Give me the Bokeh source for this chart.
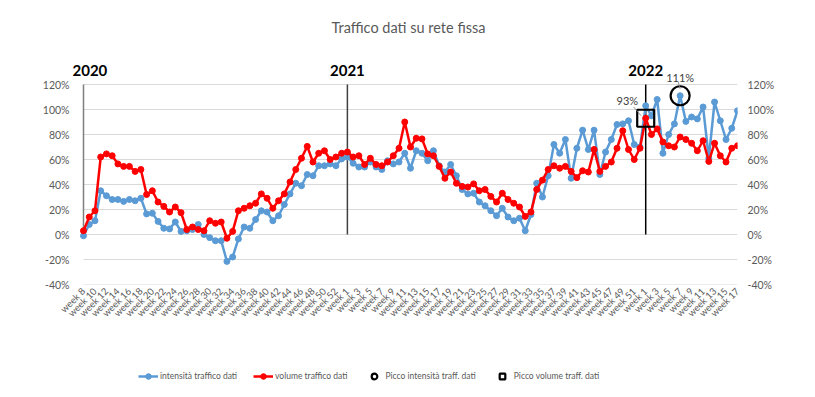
import numpy as np
from bokeh.plotting import figure
from bokeh.layouts import column
from bokeh.models import (ColumnDataSource, FixedTicker, PrintfTickFormatter, LinearAxis,
                          Legend, LegendItem, Label, Range1d)
from bokeh.embed import file_html
from bokeh.resources import INLINE

# ---------------- data ----------------
years = [2020] * 46 + [2021] * 52 + [2022] * 17
week_nums = list(range(8, 54)) + list(range(1, 53)) + list(range(1, 18))
week_labels = ["week %d" % w for w in week_nums]
year_names = ["2020", "2021", "2022"]

intensita = [-1, 8, 11, 35, 31, 28, 28, 26.5, 28, 27, 29, 16.5, 17, 10.5, 5, 4.5, 10, 2.5, 3, 4,
             8, 0, -2.5, -5, -5, -21.5, -18, -3.5, 6, 5,
             12, 19, 18, 11, 15, 24, 32.5, 41, 39, 48,
             47, 55, 55, 56.5, 55, 60.5, 62, 57, 54, 54,
             58, 54, 52, 59, 56.5, 58, 65, 53, 67, 65,
             59, 67, 55, 50, 56, 47, 36, 32.5, 33, 26,
             23, 19, 15, 21, 14, 11, 13, 3, 16, 41,
             30, 47, 72, 65, 76, 45, 69, 83.5, 68, 83.5,
             48, 66, 76, 88, 88.5, 91, 72, 70, 103, 95,
             108, 65, 80, 88.5, 111, 90.5, 94, 92.5, 102, 61,
             106, 91, 76, 85, 99]

volume = [3, 14, 19, 62, 64.5, 63, 56.5, 54.5, 54.5, 50.5, 52, 32, 35, 26, 22.5, 18, 22, 17.5, 4, 6,
          4, 3, 11, 9, 10, -3, 2.5, 19, 21, 23,
          25, 32.5, 29, 21, 27, 32.5, 42, 52, 61, 70.5,
          58, 65, 67, 60, 62, 65, 66, 62, 63, 56,
          61, 56, 55, 58, 63, 69, 90, 70, 77, 76.5,
          64.5, 63, 54.5, 45, 50, 41, 38.5, 38, 40.5, 35,
          36, 30.5, 26, 33, 28, 25, 22, 14.5, 18, 36,
          43.5, 52, 55, 53, 54.5, 50.5, 45.5, 51, 50, 68,
          50.5, 54.5, 58, 69, 83, 68, 60, 69, 93, 80,
          84.5, 74, 71, 70, 78, 76, 73, 67, 75, 58.5,
          73, 63, 58, 69, 71]

y_ticks = [-40, -20, 0, 20, 40, 60, 80, 100, 120]
series_names = ["intensità traffico dati", "volume traffico dati",
                "Picco intensità traff. dati", "Picco volume traff. dati"]

# ---------------- figure ----------------
FONT = "Lato"
GRAY = "#595959"
BLUE = "#5B9BD5"
RED = "#FF0000"

n = len(week_labels)
idx = list(range(n))

p = figure(width=807, height=345, x_range=Range1d(-1.917, n - 1), y_range=Range1d(-40, 175.2),
           output_backend="svg", toolbar_location=None,
           min_border_left=72, min_border_right=70, min_border_top=15, min_border_bottom=61)
p.outline_line_color = None
p.xgrid.visible = False
p.ygrid.visible = False

# horizontal gridlines across the category span
p.segment(x0=[0] * len(y_ticks), y0=y_ticks, x1=[n - 1] * len(y_ticks), y1=y_ticks,
          line_color="#d9d9d9", line_width=1)

def style_y(ax, standoff):
    ax.ticker = FixedTicker(ticks=y_ticks)
    ax.formatter = PrintfTickFormatter(format="%d%%")
    ax.axis_line_color = None
    ax.major_tick_line_color = None
    ax.minor_tick_line_color = None
    ax.major_tick_out = 0
    ax.major_tick_in = 0
    ax.minor_tick_out = 0
    ax.major_label_text_color = GRAY
    ax.major_label_text_font = FONT
    ax.major_label_text_font_size = "10.5px"
    ax.major_label_standoff = standoff

style_y(p.yaxis[0], 3)
right_ax = LinearAxis()
style_y(right_ax, 10)
p.add_layout(right_ax, "right")

xa = p.xaxis[0]
xa.ticker = FixedTicker(ticks=idx[::2])
xa.major_label_overrides = {i: week_labels[i] for i in idx[::2]}
xa.major_label_orientation = np.pi / 4
xa.axis_line_color = None
xa.major_tick_line_color = None
xa.minor_tick_line_color = None
xa.major_tick_out = 0
xa.major_tick_in = 0
xa.minor_tick_out = 0
xa.major_label_text_color = GRAY
xa.major_label_text_font = FONT
xa.major_label_text_font_size = "9.5px"
xa.major_label_standoff = 5

# year separator lines
year_x = [years.index(int(y)) for y in year_names]
ysrc = ColumnDataSource(dict(x=year_x, y0=[0] * 3, y1=[120] * 3,
                             c=["#7f7f7f", "#404040", "#000000"]))
p.segment(x0="x", y0="y0", x1="x", y1="y1", line_color="c", line_width=1.5, source=ysrc)

src = ColumnDataSource(dict(x=idx, blue=intensita, red=volume))
p.line("x", "blue", source=src, line_color=BLUE, line_width=2.5)
p.scatter("x", "blue", source=src, size=6, fill_color=BLUE, line_color=BLUE)
p.line("x", "red", source=src, line_color=RED, line_width=2.5)
p.scatter("x", "red", source=src, size=6, fill_color=RED, line_color=RED)

# peaks
ib = int(np.argmax(intensita))
ir = int(np.argmax(volume))
psrc_b = ColumnDataSource(dict(x=[ib], y=[intensita[ib]]))
psrc_r = ColumnDataSource(dict(x=[ir], y=[volume[ir]]))
p.scatter("x", "y", source=psrc_b, marker="circle", size=19, fill_color=None,
          line_color="black", line_width=2.2)
p.scatter("x", "y", source=psrc_r, marker="square", size=17, fill_color=None,
          line_color="black", line_width=2.2)

p.segment(x0=[ib - 0.35], y0=[122.4], x1=[ib], y1=[116.5], line_color="#7f7f7f", line_width=0.8)
p.segment(x0=[ir - 2.1], y0=[102], x1=[ir - 0.8], y1=[95], line_color="#7f7f7f", line_width=0.8)

p.add_layout(Label(x=ib, y=125.9, text="%d%%" % round(intensita[ib]), text_align="center",
                   text_baseline="middle", text_font=FONT, text_font_size="11px",
                   text_color="#404040"))
p.add_layout(Label(x=ir - 3.2, y=107.2, text="%d%%" % round(volume[ir]), text_align="center",
                   text_baseline="middle", text_font=FONT, text_font_size="11px",
                   text_color="#404040"))

# year labels
for k, (yx, name) in enumerate(zip(year_x, year_names)):
    if k == 0:
        lab = Label(x=yx, y=131.2, x_offset=-11, text=name, text_align="left")
    else:
        lab = Label(x=yx, y=131.2, text=name, text_align="center")
    lab.text_baseline = "middle"
    lab.text_font = FONT
    lab.text_font_style = "bold"
    lab.text_font_size = "15px"
    lab.text_color = "#000000"
    p.add_layout(lab)

# title
p.add_layout(Label(x=56.65, y=165.6, text="Traffico dati su rete fissa",
                   text_align="center", text_baseline="middle", text_font=FONT,
                   text_font_size="14.5px", text_color=GRAY))

# ---------------- legend strip (ranges kept away from the data) ----------------
lg = figure(width=807, height=47, x_range=Range1d(5000, 5807), y_range=Range1d(5000, 5047),
            output_backend="svg", toolbar_location=None, x_axis_type=None, y_axis_type=None,
            min_border_left=0, min_border_right=0, min_border_top=0, min_border_bottom=0)
lg.outline_line_color = None
l1 = lg.line("x", "blue", source=src, line_color=BLUE, line_width=2.5)
m1 = lg.scatter("x", "blue", source=src, size=6, fill_color=BLUE, line_color=BLUE)
l2 = lg.line("x", "red", source=src, line_color=RED, line_width=2.5)
m2 = lg.scatter("x", "red", source=src, size=6, fill_color=RED, line_color=RED)
m3 = lg.scatter("x", "y", source=psrc_b, marker="circle", size=19, fill_color=None,
                line_color="black", line_width=2.2)
m4 = lg.scatter("x", "y", source=psrc_r, marker="square", size=17, fill_color=None,
                line_color="black", line_width=2.2)

legend = Legend(items=[
    LegendItem(label=series_names[0], renderers=[l1, m1]),
    LegendItem(label=series_names[1], renderers=[l2, m2]),
    LegendItem(label=series_names[2], renderers=[m3]),
    LegendItem(label=series_names[3], renderers=[m4]),
], orientation="horizontal", location=(66, 9))
legend.padding = 0
legend.margin = 0
legend.spacing = 16
legend.glyph_width = 20
legend.glyph_height = 14
legend.label_standoff = 2
legend.border_line_color = None
legend.background_fill_alpha = 0
legend.label_text_font = FONT
legend.label_text_font_size = "8.5px"
legend.label_text_color = GRAY
lg.add_layout(legend)

open("out.html", "w").write(file_html(column(p, lg, spacing=0), INLINE))
